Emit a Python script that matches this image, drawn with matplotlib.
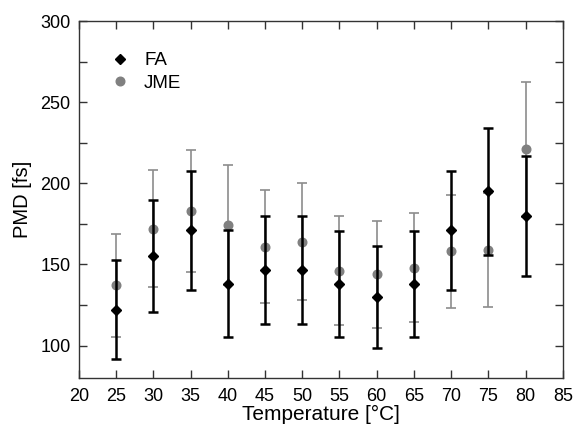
import numpy as np
import matplotlib
matplotlib.use("Agg")
import matplotlib.pyplot as plt
from matplotlib.ticker import MultipleLocator
from matplotlib.lines import Line2D

plt.rcParams['font.family'] = ['Liberation Sans', 'DejaVu Sans']
plt.rcParams['font.size'] = 13

temps = [25, 30, 35, 40, 45, 50, 55, 60, 65, 70, 75, 80]
fa_pmd = [122, 155, 171, 138, 146.5, 146.5, 138, 130, 138, 171, 195, 180]
fa_err = [30.5, 34.5, 36.5, 33, 33.5, 33.5, 32.7, 31.5, 32.7, 36.5, 39, 37]
jme_pmd = [137, 172, 183, 174, 161, 164, 146, 144, 148, 158, 159, 221]
jme_err = [32, 36, 37.5, 37, 35, 36, 33.6, 33, 33.7, 35, 35, 41.5]

fig = plt.figure(figsize=(5.76, 4.29), dpi=100)
ax = fig.add_axes([0.137, 0.119, 0.84, 0.832])

# JME first so the black FA bars sit on top
ax.errorbar(temps, jme_pmd, yerr=jme_err, fmt='o', color='#808080', ecolor='#8c8c8c',
            ms=6.2, elinewidth=1.2, capsize=3.5, capthick=1.2, zorder=2)
ax.errorbar(temps, fa_pmd, yerr=fa_err, fmt='D', color='black', ecolor='black',
            ms=5.3, elinewidth=1.8, capsize=3.5, capthick=1.8, zorder=3)

ax.set_xlim(20, 85)
ax.set_ylim(80, 300)
ax.xaxis.set_major_locator(MultipleLocator(5))
ax.yaxis.set_major_locator(MultipleLocator(50))
ax.yaxis.set_minor_locator(MultipleLocator(25))
ax.tick_params(which='both', direction='in', top=True, right=True, length=6, width=1,
               color='#333333')
ax.tick_params(axis='x', which='major', pad=7)
ax.tick_params(axis='y', which='major', pad=6)
for s in ax.spines.values():
    s.set_linewidth(1)
    s.set_color('#333333')

ax.set_xlabel('Temperature [°C]', fontsize=15, labelpad=0.5)
ax.set_ylabel('PMD [fs]', fontsize=14.5, labelpad=6)

handles = [Line2D([], [], marker='D', ms=5.3, color='black', ls='none'),
           Line2D([], [], marker='o', ms=6.2, color='#808080', ls='none')]
ax.legend(handles, ['FA', 'JME'], loc='upper left', frameon=False, fontsize=13.5,
          bbox_to_anchor=(0.03, 0.96), handletextpad=0.8, labelspacing=0.3,
          handlelength=1.0)

fig.savefig('out.png', dpi=100)
